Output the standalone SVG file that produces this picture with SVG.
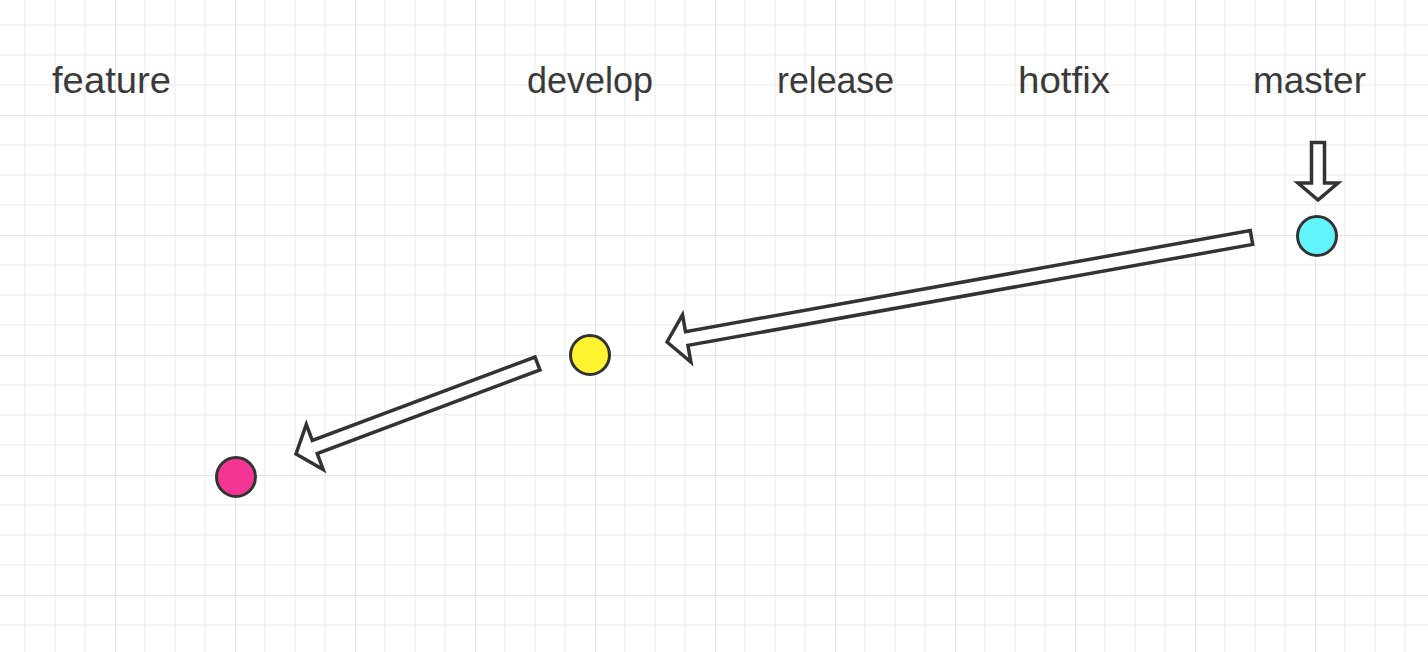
<svg xmlns="http://www.w3.org/2000/svg" width="1428" height="652" viewBox="0 0 1428 652">
  <style>
    .lbl { font-family: "Liberation Sans", Arial, sans-serif; font-size: 36px; fill: #3a3a3a; }
    .node { stroke: #333333; stroke-width: 3; }
    .arrow { fill: #ffffff; stroke: #333333; stroke-width: 3.5; stroke-linejoin: miter; }
    .minor { stroke: #f0f0f0; stroke-width: 1.5; }
    .major { stroke: #e4e4e4; stroke-width: 2; }
  </style>
  <defs>
    <pattern id="grid" patternUnits="userSpaceOnUse" x="-5" y="-5" width="120" height="120">
      <line class="minor" x1="30" y1="0" x2="30" y2="120"/>
      <line class="minor" x1="60" y1="0" x2="60" y2="120"/>
      <line class="minor" x1="90" y1="0" x2="90" y2="120"/>
      <line class="minor" x1="0" y1="30" x2="120" y2="30"/>
      <line class="minor" x1="0" y1="60" x2="120" y2="60"/>
      <line class="minor" x1="0" y1="90" x2="120" y2="90"/>
      <line class="major" x1="0" y1="0" x2="0" y2="120"/>
      <line class="major" x1="0" y1="0" x2="120" y2="0"/>
    </pattern>
  </defs>
  <rect x="0" y="0" width="1428" height="652" fill="#ffffff"/>
  <rect x="0" y="0" width="1428" height="652" fill="url(#grid)"/>

  <g id="labels">
    <text class="lbl" x="52" y="93" textLength="119" lengthAdjust="spacingAndGlyphs">feature</text>
    <text class="lbl" x="527" y="93" textLength="126" lengthAdjust="spacingAndGlyphs">develop</text>
    <text class="lbl" x="777" y="93" textLength="117" lengthAdjust="spacingAndGlyphs">release</text>
    <text class="lbl" x="1018" y="93" textLength="92" lengthAdjust="spacingAndGlyphs">hotfix</text>
    <text class="lbl" x="1253" y="93" textLength="113" lengthAdjust="spacingAndGlyphs">master</text>
  </g>

  <g id="node-master">
    <circle class="node" cx="1317" cy="236" r="19.5" fill="#62f4fb"/>
  </g>
  <g id="node-develop">
    <circle class="node" cx="590" cy="355" r="19.5" fill="#fff42f"/>
  </g>
  <g id="node-feature">
    <circle class="node" cx="236" cy="477" r="19.5" fill="#f53594"/>
  </g>

  <g id="connectors">
    <polygon class="arrow" points="1311.5,142.5 1324.5,142.5 1324.5,183 1338,183 1318,200 1298,183 1311.5,183"/>
    <polygon class="arrow" points="667,342 690.9,362.1 687.9,345.4 1252.7,244.4 1250.3,230.6 685.5,331.6 682.5,314.9"/>
    <polygon class="arrow" points="296,454 323.2,469.5 317.2,453.5 540,370 535,357 312.3,440.4 306.3,424.5"/>
  </g>
</svg>
